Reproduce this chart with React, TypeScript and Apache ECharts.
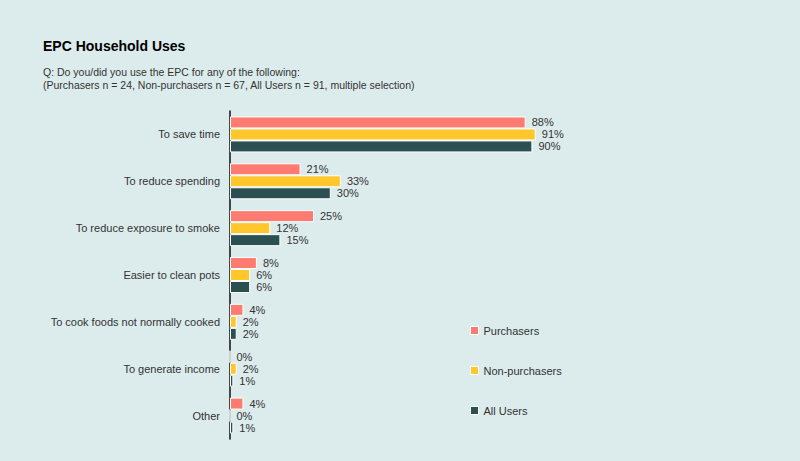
import React, { useEffect, useRef } from "react";
import * as echarts from "echarts";

const categories = [
  "To save time",
  "To reduce spending",
  "To reduce exposure to smoke",
  "Easier to clean pots",
  "To cook foods not normally cooked",
  "To generate income",
  "Other",
];
const purchasers = [88, 21, 25, 8, 4, 0, 4];
const nonPurchasers = [91, 33, 12, 6, 2, 2, 0];
const allUsers = [90, 30, 15, 6, 2, 1, 1];

const seriesNames = ["Purchasers", "Non-purchasers", "All Users"];
const colors = ["#fd7b70", "#ffc72c", "#2c5052"];

export default function App() {
  const ref = useRef<HTMLDivElement>(null);
  useEffect(() => {
    const chart = echarts.init(ref.current!, null, { renderer: "svg" });
    const font = "Liberation Sans, Arial, sans-serif";
    const mk = (name: string, data: number[], color: string) => ({
      name,
      type: "bar",
      data,
      barWidth: 12,
      barGap: "0%",
      itemStyle: { color, borderColor: "#ffffff", borderWidth: 1 },
      label: {
        show: true,
        position: "right",
        distance: 6,
        formatter: "{c}%",
        fontSize: 11,
        fontFamily: font,
        color: "#333333",
      },
    });
    chart.setOption({
      animation: false,
      backgroundColor: "#dcecec",
      textStyle: { fontFamily: font },
      title: [
        {
          text: "EPC Household Uses",
          left: 43,
          top: 39,
          padding: 0,
          textStyle: { fontSize: 14, fontWeight: "bold", color: "#000", fontFamily: font, letterSpacing: -0.5 },
        },
        {
          text:
            "Q: Do you/did you use the EPC for any of the following:\n(Purchasers n = 24, Non-purchasers n = 67, All Users n = 91, multiple selection)",
          left: 43,
          top: 65,
          padding: 0,
          textStyle: { fontSize: 10.5, fontWeight: "normal", color: "#333", lineHeight: 13.5, fontFamily: font },
        },
      ],
      legend: {
        orient: "vertical",
        left: 465,
        top: 320,
        itemWidth: 8,
        itemHeight: 8,
        itemGap: 29,
        icon: "rect",
        itemStyle: { borderColor: "#fff", borderWidth: 1 },
        textStyle: { fontSize: 11, color: "#333", fontFamily: font },
        data: seriesNames,
      },
      grid: { left: 230, right: 234, top: 111, bottom: 22 },
      xAxis: {
        type: "value",
        min: 0,
        max: 100,
        show: false,
        splitLine: { show: false },
      },
      yAxis: {
        type: "category",
        data: categories,
        inverse: true,
        axisLine: { show: true, lineStyle: { color: "#111", width: 1.5 } },
        axisTick: { show: false },
        axisLabel: { fontSize: 11, color: "#333", margin: 10, fontFamily: font },
      },
      series: [
        mk(seriesNames[0], purchasers, colors[0]),
        mk(seriesNames[1], nonPurchasers, colors[1]),
        mk(seriesNames[2], allUsers, colors[2]),
      ],
    });
    return () => chart.dispose();
  }, []);
  return (
    <div
      ref={ref}
      style={{ position: "fixed", left: 0, top: 0, width: 800, height: 461 }}
    />
  );
}
